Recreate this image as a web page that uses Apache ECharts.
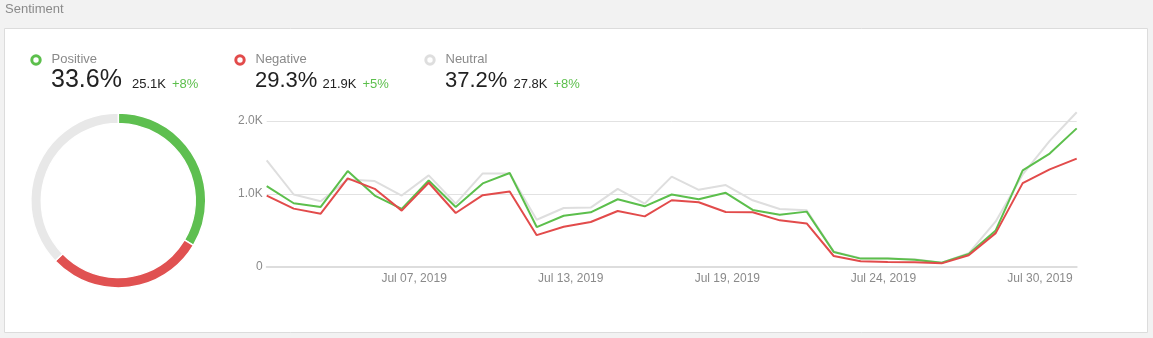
<!DOCTYPE html>
<html>
<head>
<meta charset="utf-8">
<script src="https://cdn.jsdelivr.net/npm/echarts@6/dist/echarts.min.js"></script>
<style>
  html, body { margin: 0; padding: 0; background: #f2f2f2; }
  #chart { position: absolute; left: 0; top: 0; width: 1153px; height: 338px; }
</style>
</head>
<body>
<div id="chart"></div>
<script>
// Sentiment summary
const sentimentNames = ['Positive', 'Negative', 'Neutral'];
const sentimentShares = [33.6, 29.3, 37.2];
const sentimentTotals = ['25.1K', '21.9K', '27.8K'];
const sentimentChanges = ['+8%', '+5%', '+8%'];

// Daily mention counts per sentiment
const positiveCounts = [1106, 871, 820, 1313, 977, 793, 1184, 820, 1143, 1286, 544, 700, 747, 926, 829, 991,
  926, 1014, 779, 714, 756, 203, 111, 111, 97, 55, 175, 498, 1323, 1553, 1899];
const negativeCounts = [977, 797, 728, 1212, 1069, 770, 1152, 737, 982, 1032, 433, 548, 613, 765, 691, 912,
  885, 751, 747, 636, 594, 147, 74, 65, 60, 46, 157, 461, 1147, 1336, 1484];
const neutralCounts = [1461, 991, 899, 1198, 1175, 977, 1253, 866, 1281, 1281, 645, 806, 811, 1069, 866, 1236,
  1055, 1120, 912, 793, 774, 207, 115, 111, 101, 55, 184, 622, 1267, 1728, 2120];

// Date ticks along the time line
const dateTickLabels = ['Jul 07, 2019', 'Jul 13, 2019', 'Jul 19, 2019', 'Jul 24, 2019', 'Jul 30, 2019'];
const dateTickPositions = [5.46, 11.26, 17.06, 22.84, 28.64];

const COLORS = { Positive: '#5cbf4c', Negative: '#e24b4b', Neutral: '#dedede' };
const RING_COLORS = { Positive: '#5ebf50', Negative: '#e05151', Neutral: '#e8e8e8' };
const FONT = 'Arial, "Liberation Sans", sans-serif';

const legendX = [51.5, 255.5, 445.5];
const markerX = [36, 240, 430];
const totalsX = [132, 322.5, 513.5];
const changeX = [172, 362.5, 553.5];
const shareFontSize = [25, 22, 22];
const shareBaseline = 88;

const graphics = [
  { type: 'rect', z: -10, silent: true,
    shape: { x: 4.5, y: 28.5, width: 1143, height: 304 },
    style: { fill: '#ffffff', stroke: '#dcdcdc', lineWidth: 1 } },
  { type: 'text', silent: true,
    style: { x: 5, y: 9.5, text: 'Sentiment', font: '13px ' + FONT, fill: '#8a8a8a', verticalAlign: 'middle' } }
];

sentimentNames.forEach((name, i) => {
  const fs = shareFontSize[i];
  graphics.push(
    { type: 'circle', silent: true,
      shape: { cx: markerX[i], cy: 60, r: 4.2 },
      style: { fill: '#fff', stroke: COLORS[name], lineWidth: 3 } },
    { type: 'text', silent: true,
      style: { x: legendX[i], y: 59, text: name, font: '13px ' + FONT, fill: '#8a8a8a', verticalAlign: 'middle' } },
    { type: 'text', silent: true,
      style: { x: legendX[i] - 0.5, y: shareBaseline - 0.33 * fs, text: sentimentShares[i].toFixed(1) + '%',
               font: fs + 'px ' + FONT, fill: '#222', verticalAlign: 'middle' } },
    { type: 'text', silent: true,
      style: { x: totalsX[i], y: 84, text: sentimentTotals[i], font: '13px ' + FONT, fill: '#222', verticalAlign: 'middle' } },
    { type: 'text', silent: true,
      style: { x: changeX[i], y: 84, text: sentimentChanges[i], font: '13px ' + FONT, fill: '#5cbf4c', verticalAlign: 'middle' } }
  );
});

const countsByName = { Positive: positiveCounts, Negative: negativeCounts, Neutral: neutralCounts };
const drawOrder = ['Neutral', 'Positive', 'Negative'];

const lineSeries = drawOrder.map((name, k) => ({
  name,
  type: 'line',
  data: countsByName[name].map((v, i) => [i, v]),
  showSymbol: false,
  clip: false,
  z: 3 + k,
  lineStyle: { color: COLORS[name], width: 2 },
  itemStyle: { color: COLORS[name] }
}));

const chart = echarts.init(document.getElementById('chart'), null, { renderer: 'canvas' });
chart.setOption({
  animation: false,
  textStyle: { fontFamily: FONT },
  graphic: graphics,
  grid: { left: 266.7, right: 76.3, top: 121, bottom: 71.3 },
  xAxis: {
    type: 'value',
    min: 0,
    max: positiveCounts.length - 1,
    splitLine: { show: false },
    axisTick: { show: false },
    axisLine: { show: true, lineStyle: { color: '#dddddd', width: 2 } },
    axisLabel: {
      customValues: dateTickPositions,
      formatter: v => dateTickLabels[dateTickPositions.indexOf(v)] || '',
      color: '#8a8a8a',
      fontSize: 12,
      margin: 6
    }
  },
  yAxis: {
    type: 'value',
    min: 0,
    max: 2000,
    interval: 1000,
    axisLine: { show: false },
    axisTick: { show: false },
    splitLine: { lineStyle: { color: '#e2e2e2', width: 1 } },
    axisLabel: {
      formatter: v => v === 0 ? '0' : (v / 1000).toFixed(1) + 'K',
      color: '#8a8a8a',
      fontSize: 12,
      margin: 4
    }
  },
  series: [
    {
      type: 'pie',
      silent: true,
      center: [118.3, 200.5],
      radius: [77, 87.5],
      startAngle: 90,
      clockwise: true,
      label: { show: false },
      labelLine: { show: false },
      itemStyle: { borderColor: '#ffffff', borderWidth: 1.5 },
      data: sentimentNames.map((name, i) => ({
        name, value: sentimentShares[i], itemStyle: { color: RING_COLORS[name] }
      }))
    },
    ...lineSeries
  ]
});
</script>
</body>
</html>
